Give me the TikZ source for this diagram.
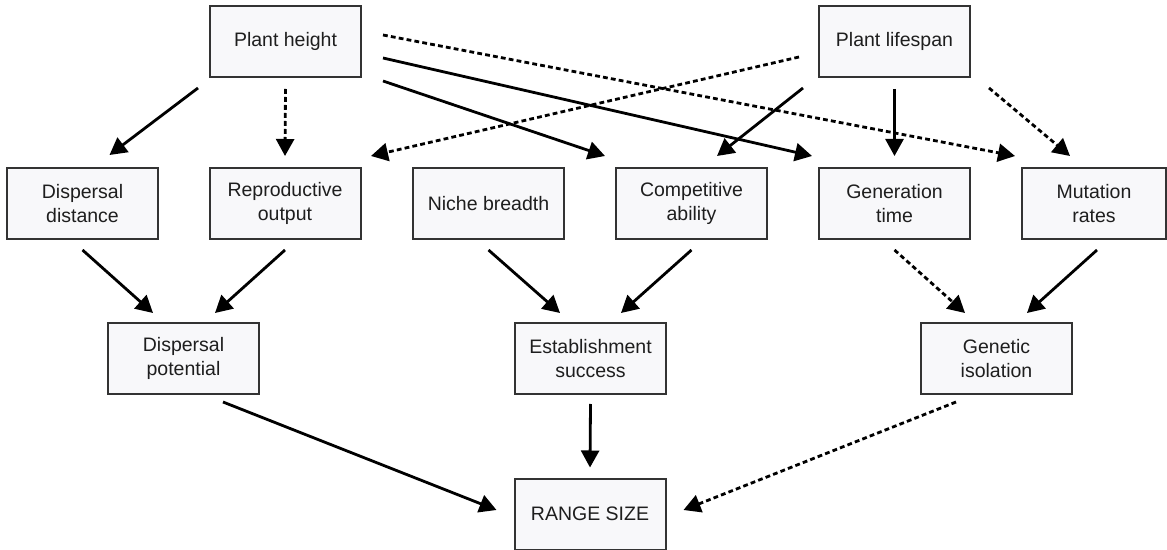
\documentclass[tikz,border=0pt]{standalone}
\usepackage{fontspec}
\setmainfont{Liberation Sans}
\usetikzlibrary{arrows.meta}
\definecolor{boxfill}{RGB}{248,248,250}
\definecolor{boxline}{RGB}{51,51,51}
\definecolor{inktext}{RGB}{30,30,30}
\begin{document}
\begin{tikzpicture}[x=0.5pt,y=-0.5pt,>={Triangle[length=8.5pt,width=9pt]},
    box/.style={draw=boxline,fill=boxfill,line width=1pt,minimum width=75.5pt,minimum height=35.5pt,
        align=center,text=inktext,font=\fontsize{9.75}{12}\selectfont},
    link/.style={->,line width=1.4pt},
    dlink/.style={link,dash pattern=on 2.4pt off 1.6pt}]
    \useasboundingbox (0,0) rectangle (1167,550);
    % traits
    \node[box] (ph) at (285.5,41.5) {Plant height};
    \node[box] (pl) at (894.5,41.5) {Plant lifespan};
    % intermediate factors
    \node[box] (dd) at (82.5,203.5) {Dispersal\\distance};
    \node[box] (ro) at (285,203.5) {Reproductive\\output};
    \node[box] (nb) at (488.5,203.5) {Niche breadth};
    \node[box] (ca) at (691.5,203.5) {Competitive\\ability};
    \node[box] (gt) at (894.5,203.5) {Generation\\time};
    \node[box,minimum width=72pt] (mr) at (1094,203.5) {Mutation\\rates};
    \node[box] (dp) at (183.5,358.5) {Dispersal\\potential};
    \node[box] (es) at (590.5,358.5) {Establishment\\success};
    \node[box] (gi) at (996.5,358.5) {Genetic\\isolation};
    \node[box] (rs) at (590,514) {RANGE SIZE};
    % plant height
    \draw[link] ([shift={(-11,10)}]ph.south west) -- ([shift={(27,-12)}]dd.north);
    \draw[dlink] ([shift={(0,11)}]ph.south) -- ([shift={(0,-11)}]ro.north);
    \draw[link] ([shift={(21,3)}]ph.south east) -- ([shift={(-86.5,-11)}]ca.north);
    \draw[link] ([shift={(21,16.5)}]ph.east) -- ([shift={(-82.5,-11)}]gt.north);
    \draw[dlink] ([shift={(21,-6.5)}]ph.east) -- ([shift={(-79,-11)}]mr.north);
    % plant lifespan
    \draw[dlink] ([shift={(-19,15.5)}]pl.west) -- ([shift={(86,-11)}]ro.north);
    \draw[link] ([shift={(-15,10)}]pl.south west) -- ([shift={(25.5,-11)}]ca.north);
    \draw[link] ([shift={(0,11)}]pl.south) -- ([shift={(0,-11)}]gt.north);
    \draw[dlink] ([shift={(18,10)}]pl.south east) -- ([shift={(-24,-11)}]mr.north);
    % second level
    \draw[link] ([shift={(0,10)}]dd.south) -- ([shift={(-30.5,-9)}]dp.north);
    \draw[link] ([shift={(0,10)}]ro.south) -- ([shift={(31.5,-9)}]dp.north);
    \draw[link] ([shift={(0,10)}]nb.south) -- ([shift={(-30.5,-9)}]es.north);
    \draw[link] ([shift={(0,10)}]ca.south) -- ([shift={(30.5,-9)}]es.north);
    \draw[dlink] ([shift={(0,10)}]gt.south) -- ([shift={(-31.5,-9)}]gi.north);
    \draw[link] ([shift={(3,10)}]mr.south) -- ([shift={(30.5,-9)}]gi.north);
    % range size
    \draw[link] ([shift={(39.5,7)}]dp.south) -- ([shift={(-17,-4)}]rs.west);
    \draw[link] ([shift={(0,9)}]es.south) -- ([shift={(0,-10)}]rs.north);
    \draw[dlink] ([shift={(-40.5,7)}]gi.south) -- ([shift={(17,-4)}]rs.east);
\end{tikzpicture}
\end{document}
